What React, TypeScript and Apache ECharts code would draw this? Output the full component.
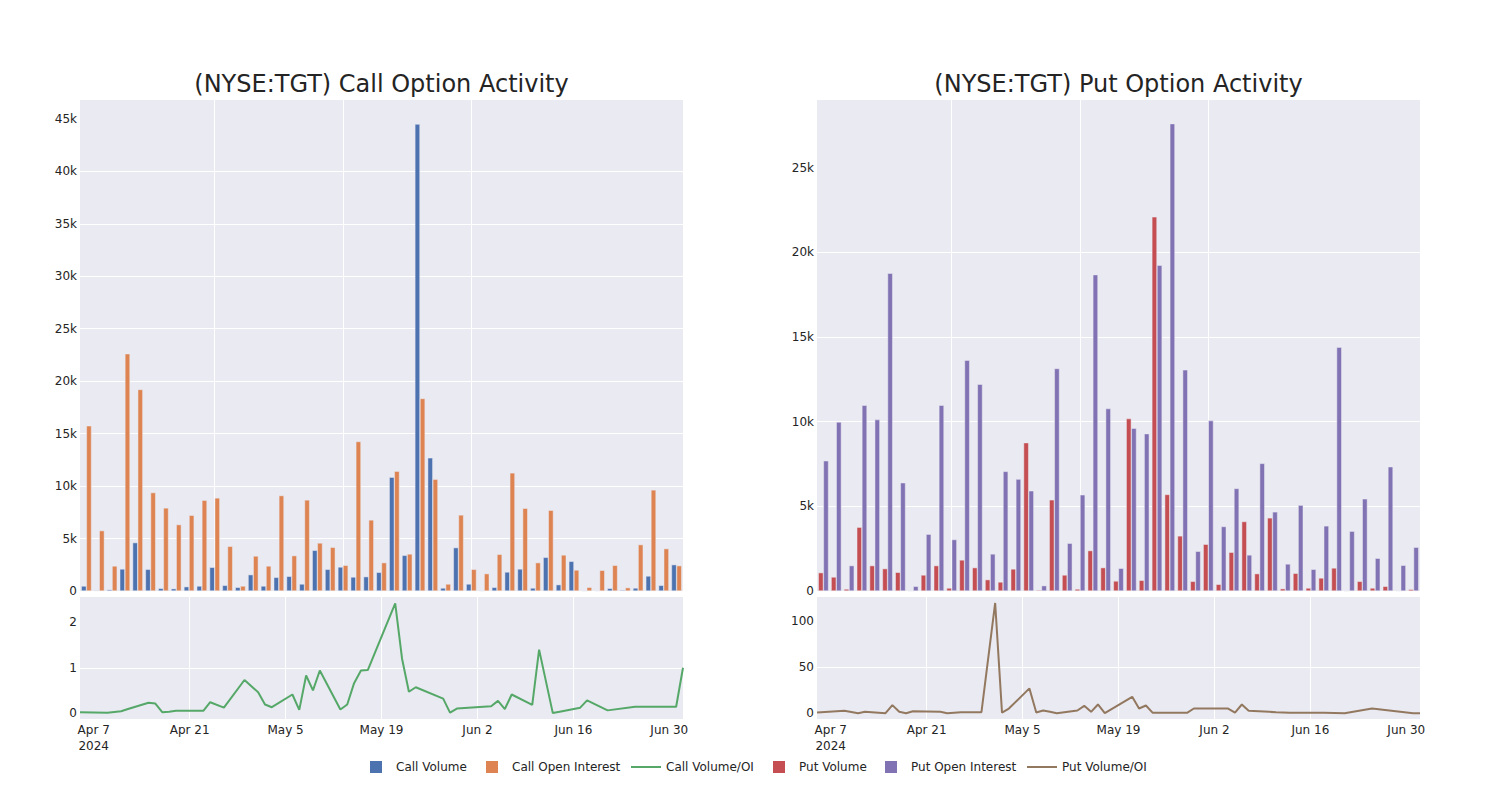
import React, { useEffect, useRef } from 'react';
import * as echarts from 'echarts';

const dates = [
  '2024-04-05', '2024-04-09', '2024-04-11', '2024-04-12', '2024-04-15', '2024-04-16', '2024-04-17',
  '2024-04-18', '2024-04-19', '2024-04-23', '2024-04-24', '2024-04-26', '2024-04-29', '2024-05-01',
  '2024-05-02', '2024-05-03', '2024-05-06', '2024-05-07', '2024-05-08', '2024-05-09', '2024-05-10',
  '2024-05-13', '2024-05-14', '2024-05-15', '2024-05-16', '2024-05-17', '2024-05-21', '2024-05-22',
  '2024-05-23', '2024-05-24', '2024-05-28', '2024-05-29', '2024-05-30', '2024-06-04', '2024-06-05',
  '2024-06-06', '2024-06-07', '2024-06-10', '2024-06-11', '2024-06-13', '2024-06-14', '2024-06-17',
  '2024-06-18', '2024-06-21', '2024-06-25', '2024-07-01', '2024-07-02',
];

const callVolume = [
  477, 60, 130, 2100, 4612, 2067, 254, 223, 413, 477, 2258, 540, 350, 1558, 477, 1304, 1400, 668,
  3880, 2067, 2290, 1336, 1368, 1781, 10846, 3404, 44504, 12691, 286, 4135, 668, 15, 350, 1813,
  2100, 286, 3213, 604, 2831, 0, 30, 254, 95, 286, 1431, 540, 2512,
];
const callOpenInterest = [
  15744, 5757, 2386, 22615, 19211, 9383, 7920, 6330, 7220, 8651, 8874, 4262, 477, 3340, 2386, 9097,
  3372, 8683, 4580, 4167, 2450, 14250, 6775, 2704, 11418, 3531, 18353, 10655, 668, 7252, 2067, 1654,
  3499, 11260, 7888, 2704, 7697, 3435, 2004, 350, 1972, 2450, 318, 4421, 9637, 4040, 2417,
];
const callVolumeOI = [
  0.02, 0.01, 0.04, 0.09, 0.23, 0.21, 0.02, 0.03, 0.05, 0.05, 0.24, 0.12, 0.73, 0.46, 0.19, 0.13,
  0.41, 0.07, 0.83, 0.5, 0.94, 0.08, 0.19, 0.66, 0.94, 0.95, 2.42, 1.2, 0.47, 0.57, 0.32, 0.01, 0.1,
  0.15, 0.27, 0.09, 0.41, 0.18, 1.4, 0, 0.03, 0.12, 0.28, 0.06, 0.14, 0.14, 1.0,
];
const putVolume = [
  1085, 829, 118, 3769, 1500, 1322, 1105, 0, 947, 1500, 178, 1835, 1381, 671, 533, 1302, 8761, 59,
  5387, 947, 118, 2388, 1381, 592, 10182, 631, 22099, 5703, 3256, 572, 2762, 395, 2289, 4104, 1026,
  4321, 138, 1046, 178, 770, 1361, 0, 572, 178, 276, 20, 99,
];
const putOpenInterest = [
  7695, 9984, 1500, 10971, 10122, 18765, 6393, 276, 3354, 10971, 3039, 13635, 12214, 2190, 7064,
  6610, 5920, 316, 13141, 2822, 5683, 18686, 10773, 1342, 9610, 9294, 19238, 27604, 13062, 2348,
  10063, 3808, 6057, 2131, 7537, 4676, 1598, 5071, 1283, 3848, 14404, 3532, 5446, 1934, 7340, 1519,
  2585,
];
const putVolumeOI = [
  0.7, 2.6, 0, 1.5, 0, 8.8, 1.5, 0, 2.2, 1.5, 0, 1.1, 1.1, 120, 0.7, 5.1, 27, 0.7, 2.9, 1.5, 0, 2.9,
  8, 1.5, 9.5, 0, 17.9, 5.1, 8.4, 0.4, 0.4, 0.4, 5.1, 5.1, 0.7, 9.5, 2.6, 1.5, 1.1, 0.4, 0.4, 0.4,
  0.4, 0, 5.1, 0, 0,
];

const dateTicks = ['2024-04-07', '2024-04-21', '2024-05-05', '2024-05-19', '2024-06-02', '2024-06-16', '2024-06-30'];
const dateRange = ['2024-04-05', '2024-07-02'];
const indexTicks = [0, 10, 20, 30, 40];
const callBarTicks = [0, 5000, 10000, 15000, 20000, 25000, 30000, 35000, 40000, 45000];
const putBarTicks = [0, 5000, 10000, 15000, 20000, 25000];
const callRatioTicks = [0, 1, 2];
const putRatioTicks = [0, 50, 100];

const MONTHS = ['Jan', 'Feb', 'Mar', 'Apr', 'May', 'Jun', 'Jul', 'Aug', 'Sep', 'Oct', 'Nov', 'Dec'];
const toTs = (s: string) => {
  const [y, m, d] = s.split('-').map(Number);
  return new Date(y, m - 1, d).getTime();
};

const TEXT = 'rgb(36,36,36)';
const BG = '#EAEAF2';
const C_BLUE = 'rgb(76,114,176)';
const C_ORANGE = 'rgb(221,132,82)';
const C_GREEN = 'rgb(85,168,104)';
const C_RED = 'rgb(196,78,82)';
const C_PURPLE = 'rgb(129,114,179)';
const C_BROWN = 'rgb(147,120,96)';

export default function App() {
  const ref = useRef<HTMLDivElement>(null);

  useEffect(() => {
    document.body.style.margin = '0';
    if (!ref.current) return;
    const chart = echarts.init(ref.current, undefined, { renderer: 'svg' });

    const tickTs = dateTicks.map(toTs);
    const fmtDate = (v: number) => {
      const d = new Date(v);
      const s = MONTHS[d.getMonth()] + ' ' + d.getDate();
      return Math.abs(v - tickTs[0]) < 1000 ? s + '\n' + d.getFullYear() : s;
    };
    const kFmt = (v: number) => (v === 0 ? '0' : v / 1000 + 'k');

    const gridDefs = [
      { left: 80, top: 100, width: 603, height: 491 },
      { left: 80, top: 597, width: 603, height: 122 },
      { left: 817, top: 100, width: 603, height: 491 },
      { left: 817, top: 597, width: 603, height: 122 },
    ];

    const splitWhite = { show: true, lineStyle: { color: '#ffffff', width: 1 }, showMinLine: false, showMaxLine: false };
    const yLabel = { color: TEXT, fontSize: 12, margin: 3, fontFamily: 'DejaVu Sans' };

    const xAxes: any[] = [];
    const yAxes: any[] = [];
    [0, 2].forEach((g) => {
      xAxes.push({
        type: 'value', gridIndex: g, min: -0.5, max: 46.5,
        axisLine: { show: false }, axisTick: { show: false, customValues: indexTicks },
        axisLabel: { show: false, customValues: indexTicks },
        splitLine: splitWhite,
      });
      xAxes.push({
        type: 'value', gridIndex: g + 1, min: toTs(dateRange[0]), max: toTs(dateRange[1]),
        axisLine: { show: false }, axisTick: { show: false, customValues: tickTs },
        axisLabel: {
          customValues: tickTs, formatter: (v: number) => fmtDate(v), color: TEXT, fontSize: 12,
          margin: 3, lineHeight: 16, hideOverlap: false, fontFamily: 'DejaVu Sans',
        },
        splitLine: splitWhite,
      });
    });
    yAxes.push({
      type: 'value', gridIndex: 0, min: 0, max: 46800,
      axisLine: { show: false }, axisTick: { show: false, customValues: callBarTicks },
      axisLabel: { ...yLabel, customValues: callBarTicks, formatter: kFmt }, splitLine: splitWhite,
    });
    yAxes.push({
      type: 'value', gridIndex: 1, min: -0.13, max: 2.56,
      axisLine: { show: false }, axisTick: { show: false, customValues: callRatioTicks },
      axisLabel: { ...yLabel, customValues: callRatioTicks }, splitLine: splitWhite,
    });
    yAxes.push({
      type: 'value', gridIndex: 2, min: 0, max: 29000,
      axisLine: { show: false }, axisTick: { show: false, customValues: putBarTicks },
      axisLabel: { ...yLabel, customValues: putBarTicks, formatter: kFmt }, splitLine: splitWhite,
    });
    yAxes.push({
      type: 'value', gridIndex: 3, min: -6.3, max: 126.5,
      axisLine: { show: false }, axisTick: { show: false, customValues: putRatioTicks },
      axisLabel: { ...yLabel, customValues: putRatioTicks }, splitLine: splitWhite,
    });

    const barSeries = (name: string, data: number[], color: string, axis: number) => ({
      name, type: 'bar', xAxisIndex: axis, yAxisIndex: axis,
      data: data.map((v, i) => [i, v]),
      barGap: '0%', barCategoryGap: '20%',
      itemStyle: { color, borderColor: BG, borderWidth: 0.5 },
      z: 3,
    });
    const lineSeries = (name: string, data: number[], color: string, axis: number) => ({
      name, type: 'line', xAxisIndex: axis, yAxisIndex: axis,
      data: dates.map((d, i) => [toTs(d), data[i]]),
      symbol: 'none', showSymbol: false, color,
      itemStyle: { color },
      lineStyle: { color, width: 2 }, z: 3,
    });

    const legendItem = (name: string, left: number, isLine: boolean) => ({
      data: [{ name, icon: isLine ? 'path://M0,0H30V2H0Z' : 'rect' }],
      left, top: 761, padding: 0, orient: 'horizontal',
      itemWidth: isLine ? 30 : 12, itemHeight: 12,
      selectedMode: false,
      itemStyle: { borderWidth: 0 },
      textStyle: {
        color: TEXT, fontSize: 12, fontFamily: 'DejaVu Sans',
        padding: isLine ? 0 : [0, 0, 0, 9],
      },
    });

    const option: any = {
      animation: false,
      backgroundColor: '#ffffff',
      textStyle: { fontFamily: 'DejaVu Sans' },
      title: [
        {
          text: '(NYSE:TGT) Call Option Activity', left: 381.5, top: 72, textAlign: 'center', padding: 0,
          textStyle: { color: TEXT, fontSize: 24, fontWeight: 'normal', fontFamily: 'DejaVu Sans' },
        },
        {
          text: '(NYSE:TGT) Put Option Activity', left: 1118.5, top: 72, textAlign: 'center', padding: 0,
          textStyle: { color: TEXT, fontSize: 24, fontWeight: 'normal', fontFamily: 'DejaVu Sans' },
        },
      ],
      legend: [
        legendItem('Call Volume', 370, false),
        legendItem('Call Open Interest', 486, false),
        legendItem('Call Volume/OI', 631, true),
        legendItem('Put Volume', 773, false),
        legendItem('Put Open Interest', 885, false),
        legendItem('Put Volume/OI', 1027, true),
      ],
      grid: gridDefs.map((g) => ({ ...g, show: true, backgroundColor: BG, borderWidth: 0, containLabel: false })),
      xAxis: xAxes,
      yAxis: yAxes,
      series: [
        barSeries('Call Volume', callVolume, C_BLUE, 0),
        barSeries('Call Open Interest', callOpenInterest, C_ORANGE, 0),
        lineSeries('Call Volume/OI', callVolumeOI, C_GREEN, 1),
        barSeries('Put Volume', putVolume, C_RED, 2),
        barSeries('Put Open Interest', putOpenInterest, C_PURPLE, 2),
        lineSeries('Put Volume/OI', putVolumeOI, C_BROWN, 3),
      ],
    };

    chart.setOption(option);
    return () => chart.dispose();
  }, []);

  return <div ref={ref} style={{ width: 1500, height: 800 }} />;
}
